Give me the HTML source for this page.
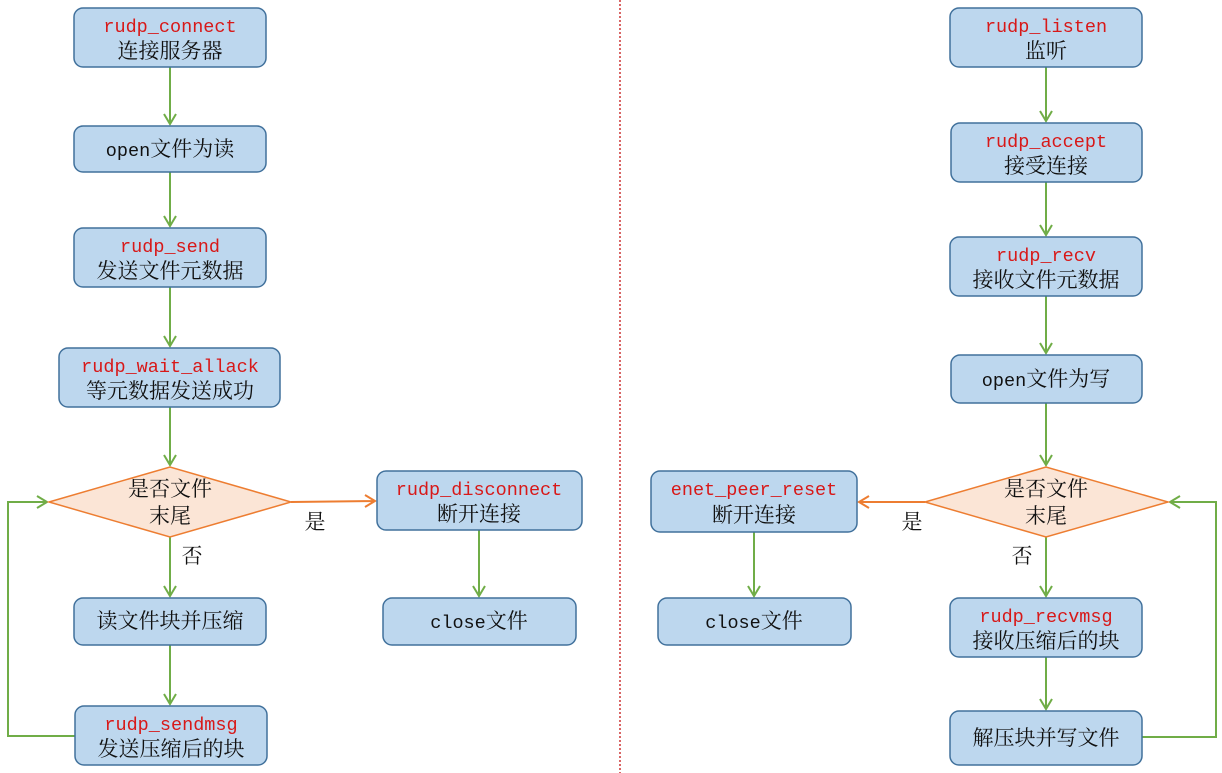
<!DOCTYPE html>
<html><head><meta charset="utf-8"><style>
html,body{margin:0;padding:0;background:#fff;}
svg{display:block}
.b{fill:#bdd7ee;stroke:#41719c;stroke-width:1.5}
.d{fill:#fbe5d6;stroke:#ed7d31;stroke-width:1.5}
.g{stroke:#70ad47;stroke-width:2;fill:none}
.o{stroke:#ed7d31;stroke-width:2;fill:none}
.m{font-family:"Liberation Mono",monospace;font-size:18.5px;fill:#d81818;text-anchor:middle}
.c{font-family:"Liberation Serif","Noto Serif CJK SC",serif;font-size:21px;fill:#111;text-anchor:middle}
.t{font-family:"Liberation Mono",monospace;font-size:18.5px}
</style></head><body>
<svg width="1222" height="773" viewBox="0 0 1222 773" xmlns="http://www.w3.org/2000/svg">
<line x1="620" y1="0" x2="620" y2="773" stroke="#c00000" stroke-width="1.2" stroke-dasharray="2,2"/>

<path class="g" d="M170 67V124M164 114L170 124L176 114"/>
<path class="g" d="M170 172V226M164 216L170 226L176 216"/>
<path class="g" d="M170 287V346M164 336L170 346L176 336"/>
<path class="g" d="M170 407V465M164 455L170 465L176 455"/>
<path class="g" d="M170 537V596M164 586L170 596L176 586"/>
<path class="g" d="M170 645V704M164 694L170 704L176 694"/>
<path class="g" d="M75 736H8V502H47M37 496L47 502L37 508"/>
<path class="o" d="M291 502L375 501M365 495L375 501L365 507"/>
<path class="g" d="M479 530V596M473 586L479 596L485 586"/>

<rect class="b" x="74" y="8" width="192" height="59" rx="9"/>
<text class="m" x="170" y="32">rudp_connect</text><text class="c" x="170" y="58">连接服务器</text>
<rect class="b" x="74" y="126" width="192" height="46" rx="9"/>
<text class="c" x="170" y="156"><tspan class="t">open</tspan>文件为读</text>
<rect class="b" x="74" y="228" width="192" height="59" rx="9"/>
<text class="m" x="170" y="252">rudp_send</text><text class="c" x="170" y="278">发送文件元数据</text>
<rect class="b" x="59" y="348" width="221" height="59" rx="9"/>
<text class="m" x="170" y="372">rudp_wait_allack</text><text class="c" x="170" y="398">等元数据发送成功</text>
<polygon class="d" points="49,502 170,467 291,502 170,537"/>
<text class="c" x="170" y="496">是否文件</text><text class="c" x="170" y="523">末尾</text>
<text class="c" x="315" y="529">是</text>
<text class="c" x="192" y="563">否</text>
<rect class="b" x="74" y="598" width="192" height="47" rx="9"/>
<text class="c" x="170" y="628">读文件块并压缩</text>
<rect class="b" x="75" y="706" width="192" height="59" rx="9"/>
<text class="m" x="171" y="730">rudp_sendmsg</text><text class="c" x="171" y="756">发送压缩后的块</text>
<rect class="b" x="377" y="471" width="205" height="59" rx="9"/>
<text class="m" x="479" y="495">rudp_disconnect</text><text class="c" x="479" y="521">断开连接</text>
<rect class="b" x="383" y="598" width="193" height="47" rx="9"/>
<text class="c" x="479" y="628"><tspan class="t">close</tspan>文件</text>

<path class="g" d="M1046 67V121M1040 111L1046 121L1052 111"/>
<path class="g" d="M1046 182V235M1040 225L1046 235L1052 225"/>
<path class="g" d="M1046 296V353M1040 343L1046 353L1052 343"/>
<path class="g" d="M1046 403V465M1040 455L1046 465L1052 455"/>
<path class="g" d="M1046 537V596M1040 586L1046 596L1052 586"/>
<path class="g" d="M1046 657V709M1040 699L1046 709L1052 699"/>
<path class="g" d="M1142 737H1216V502H1170M1180 496L1170 502L1180 508"/>
<path class="o" d="M925 502H859M869 496L859 502L869 508"/>
<path class="g" d="M754 532V596M748 586L754 596L760 586"/>

<rect class="b" x="950" y="8" width="192" height="59" rx="9"/>
<text class="m" x="1046" y="32">rudp_listen</text><text class="c" x="1046" y="58">监听</text>
<rect class="b" x="951" y="123" width="191" height="59" rx="9"/>
<text class="m" x="1046" y="147">rudp_accept</text><text class="c" x="1046" y="173">接受连接</text>
<rect class="b" x="950" y="237" width="192" height="59" rx="9"/>
<text class="m" x="1046" y="261">rudp_recv</text><text class="c" x="1046" y="287">接收文件元数据</text>
<rect class="b" x="951" y="355" width="191" height="48" rx="9"/>
<text class="c" x="1046" y="386"><tspan class="t">open</tspan>文件为写</text>
<polygon class="d" points="925,502 1046,467 1168,502 1046,537"/>
<text class="c" x="1046" y="496">是否文件</text><text class="c" x="1046" y="523">末尾</text>
<text class="c" x="912" y="529">是</text>
<text class="c" x="1022" y="563">否</text>
<rect class="b" x="950" y="598" width="192" height="59" rx="9"/>
<text class="m" x="1046" y="622">rudp_recvmsg</text><text class="c" x="1046" y="648">接收压缩后的块</text>
<rect class="b" x="950" y="711" width="192" height="54" rx="9"/>
<text class="c" x="1046" y="745">解压块并写文件</text>
<rect class="b" x="651" y="471" width="206" height="61" rx="9"/>
<text class="m" x="754" y="495">enet_peer_reset</text><text class="c" x="754" y="522">断开连接</text>
<rect class="b" x="658" y="598" width="193" height="47" rx="9"/>
<text class="c" x="754" y="628"><tspan class="t">close</tspan>文件</text>
</svg>
</body></html>
